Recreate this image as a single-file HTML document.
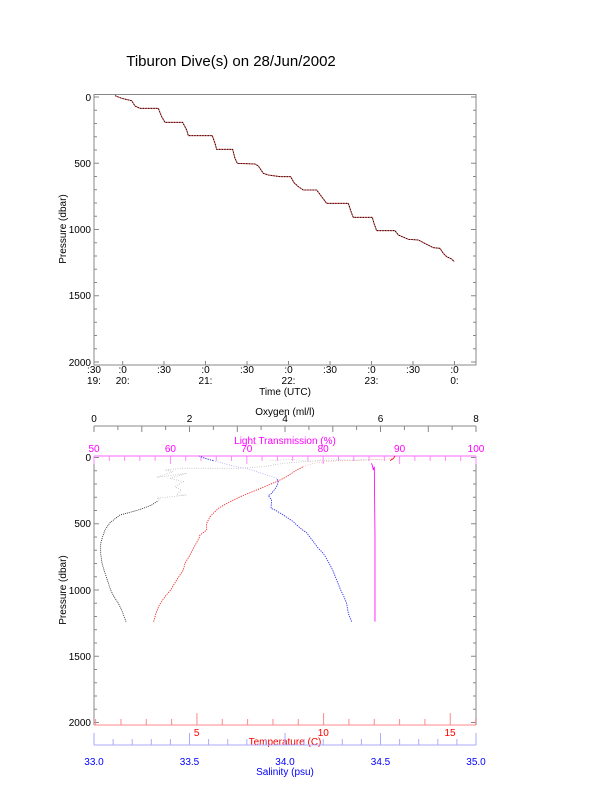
<!DOCTYPE html>
<html><head><style>
body{margin:0;background:#fff}
svg{display:block}
text{font-family:"Liberation Sans",sans-serif;font-size:10px}
</style></head><body>
<svg width="612" height="785" viewBox="0 0 612 785" xmlns="http://www.w3.org/2000/svg">
<rect width="612" height="785" fill="#fff"/>
<text x="231" y="66" text-anchor="middle" style="font-size:15px">Tiburon Dive(s) on 28/Jun/2002</text>

<!-- TOP CHART -->
<rect x="94" y="94.5" width="382" height="270.5" fill="none" stroke="#888" stroke-width="1"/>
<g stroke="#888" stroke-width="1">
<path d="M94 97h5M94 110.2h3M94 123.5h3M94 136.7h3M94 150h3M94 163.2h5M94 176.5h3M94 189.7h3M94 203h3M94 216.2h3M94 229.5h5M94 242.7h3M94 256h3M94 269.2h3M94 282.5h3M94 295.7h5M94 309h3M94 322.2h3M94 335.5h3M94 348.7h3M94 362h5"/>
<path d="M476 97h-5M476 110.2h-3M476 123.5h-3M476 136.7h-3M476 150h-3M476 163.2h-5M476 176.5h-3M476 189.7h-3M476 203h-3M476 216.2h-3M476 229.5h-5M476 242.7h-3M476 256h-3M476 269.2h-3M476 282.5h-3M476 295.7h-5M476 309h-3M476 322.2h-3M476 335.5h-3M476 348.7h-3M476 362h-5"/>
<path d="M122.7 365v-4M164 365v-4M205.5 365v-4M247 365v-4M288.5 365v-4M330 365v-4M371.5 365v-4M413 365v-4M454.5 365v-4"/>
</g>
<g text-anchor="end">
<text x="91" y="101">0</text><text x="91" y="167">500</text><text x="91" y="233">1000</text><text x="91" y="299">1500</text><text x="91" y="366">2000</text>
</g>
<g text-anchor="middle">
<text x="94" y="373">:30</text><text x="122.7" y="373">:0</text><text x="164" y="373">:30</text><text x="205.5" y="373">:0</text><text x="247" y="373">:30</text><text x="288.5" y="373">:0</text><text x="330" y="373">:30</text><text x="371.5" y="373">:0</text><text x="413" y="373">:30</text><text x="454.5" y="373">:0</text>
<text x="94" y="384">19:</text><text x="122.7" y="384">20:</text><text x="205.5" y="384">21:</text><text x="288.5" y="384">22:</text><text x="371.5" y="384">23:</text><text x="454.5" y="384">0:</text>
<text x="285" y="395">Time (UTC)</text>
</g>
<text transform="translate(66 229) rotate(-90)" text-anchor="middle">Pressure (dbar)</text>
<g transform="translate(50 80) scale(0.3333)">
<polyline fill="none" stroke="#e05050" stroke-width="3" points="195,47 215,55 245,62 255,78 270,85 325,85 335,110 345,127 398,127 410,150 415,167 487,167 495,190 500,208 548,208 555,235 562,250 615,252 625,258 640,280 655,285 690,290 722,290 732,308 745,320 760,330 800,330 815,350 830,370 895,370 905,400 910,412 967,412 972,430 980,452 1035,452 1045,465 1075,478 1105,480 1130,493 1150,503 1170,505 1180,520 1190,530 1205,537 1213,545"/>
<polyline fill="none" stroke="#000" stroke-width="2.5" stroke-dasharray="4 4" points="195,47 215,55 245,62 255,78 270,85 325,85 335,110 345,127 398,127 410,150 415,167 487,167 495,190 500,208 548,208 555,235 562,250 615,252 625,258 640,280 655,285 690,290 722,290 732,308 745,320 760,330 800,330 815,350 830,370 895,370 905,400 910,412 967,412 972,430 980,452 1035,452 1045,465 1075,478 1105,480 1130,493 1150,503 1170,505 1180,520 1190,530 1205,537 1213,545"/>
</g>

<!-- BOTTOM CHART -->
<line x1="94" y1="426" x2="476" y2="426" stroke="#888"/>
<g stroke="#888"><path d="M94 426v6M117.9 426v4M141.8 426v6M165.6 426v4M189.5 426v6M213.4 426v4M237.3 426v6M261.1 426v4M285 426v6M308.9 426v4M332.8 426v6M356.6 426v4M380.5 426v6M404.4 426v4M428.3 426v6M452.1 426v4M476 426v6"/></g>
<g text-anchor="middle"><text x="94" y="422">0</text><text x="189.5" y="422">2</text><text x="285" y="422">4</text><text x="380.5" y="422">6</text><text x="476" y="422">8</text><text x="285" y="415">Oxygen (ml/l)</text></g>
<line x1="94" y1="456" x2="94" y2="725" stroke="#888"/>
<line x1="476" y1="456" x2="476" y2="725" stroke="#888"/>
<line x1="94" y1="456" x2="476" y2="456" stroke="#f6f"/>
<g text-anchor="middle" fill="#f0f"><text x="94" y="452">50</text><text x="170.4" y="452">60</text><text x="246.8" y="452">70</text><text x="323.2" y="452">80</text><text x="399.6" y="452">90</text><text x="476" y="452">100</text><text x="285" y="444">Light Transmission (%)</text></g>
<g stroke="#888">
<path d="M94 457.5h5M94 470.7h3M94 484h3M94 497.2h3M94 510.5h3M94 523.7h5M94 537h3M94 550.2h3M94 563.5h3M94 576.7h3M94 590h5M94 603.2h3M94 616.5h3M94 629.7h3M94 643h3M94 656.2h5M94 669.5h3M94 682.7h3M94 696h3M94 709.2h3M94 722.5h5"/>
<path d="M476 457.5h-5M476 470.7h-3M476 484h-3M476 497.2h-3M476 510.5h-3M476 523.7h-5M476 537h-3M476 550.2h-3M476 563.5h-3M476 576.7h-3M476 590h-5M476 603.2h-3M476 616.5h-3M476 629.7h-3M476 643h-3M476 656.2h-5M476 669.5h-3M476 682.7h-3M476 696h-3M476 709.2h-3M476 722.5h-5"/>
</g>
<g text-anchor="end"><text x="91" y="461">0</text><text x="91" y="527">500</text><text x="91" y="594">1000</text><text x="91" y="660">1500</text><text x="91" y="726">2000</text></g>
<text transform="translate(66 590) rotate(-90)" text-anchor="middle">Pressure (dbar)</text>
<line x1="94" y1="725" x2="476" y2="725" stroke="#f88"/>
<g text-anchor="middle" fill="#f00"><text x="196.7" y="736">5</text><text x="323.3" y="736">10</text><text x="450" y="736">15</text><text x="285" y="745">Temperature (C)</text></g>
<line x1="94" y1="745" x2="476" y2="745" stroke="#aaf"/>
<g text-anchor="middle" fill="#00f"><text x="94" y="765">33.0</text><text x="189.5" y="765">33.5</text><text x="285" y="765">34.0</text><text x="380.5" y="765">34.5</text><text x="476" y="765">35.0</text><text x="285" y="775">Salinity (psu)</text></g>
<g id="ticks"></g>

<g transform="translate(50 400) scale(0.3333)" fill="none" stroke-width="2.5">
<!-- light transmission -->
<polyline stroke="#f0f" points="975,665 975,600 975,500 975,400 974,300 973,200 970,210 967,195 964,190"/>
<polyline stroke="#f00" points="1035,168 1030,176 1020,182"/>
<!-- oxygen surface scatter -->
<polyline stroke="#aaa" stroke-dasharray="2 5" points="330,297 320,295 410,285 380,285 395,270 375,260 400,245 360,235 410,220 320,232 370,215 345,210 395,205 480,205 560,205 640,200 700,190 760,185 820,182 880,180 950,180"/>
<polyline stroke="#bbb" stroke-dasharray="2 6" points="660,182 720,178 780,184 840,176 900,182 960,178 1000,180"/>
<!-- oxygen -->
<polyline stroke="#222" stroke-dasharray="3 3" points="228,665 215,630 205,610 192,590 182,570 172,540 162,510 156,490 152,460 152,430 158,410 165,390 180,368 210,345 240,337 265,330 285,323 305,315 325,302"/>
<!-- temperature -->
<polyline stroke="#e22" stroke-dasharray="4 3" points="311,665 318,640 328,615 345,590 362,570 380,540 400,510 405,490 420,465 433,440 447,415 450,405 460,398 470,390 470,370 480,350 505,325 540,305 578,287 620,270 680,245 710,230 740,210 760,200"/>
<polyline stroke="#f99" stroke-dasharray="2 5" points="760,200 790,190 830,185 880,182 950,180 1000,178 1030,175"/>
<!-- salinity -->
<polyline stroke="#22e" stroke-dasharray="4 3" points="905,665 895,640 890,610 882,590 872,570 858,535 848,510 835,485 820,460 805,445 790,425 775,405 770,398 758,390 740,375 730,365 700,345 675,330 663,325 665,300 655,287 665,280 680,260 685,245 680,235"/>
<polyline stroke="#88f" stroke-dasharray="2 5" points="680,235 650,225 590,205 570,203 520,190 490,182"/>
<polyline stroke="#22e" stroke-dasharray="4 3" points="490,182 465,175 448,168"/>
</g>
</svg>
<script>
(function(){
var ns="http://www.w3.org/2000/svg",g=document.getElementById('ticks');
function ln(x1,y1,x2,y2,c){var l=document.createElementNS(ns,'line');l.setAttribute('x1',x1);l.setAttribute('y1',y1);l.setAttribute('x2',x2);l.setAttribute('y2',y2);l.setAttribute('stroke',c);g.appendChild(l);}
for(var L=50;L<=100;L+=2){var x=94+(L-50)*7.64;ln(x,456,x,L%10==0?464:461,'#f8f');}
for(var T=1;T<=16;T++){var x=70.3+T*25.33;if(x<=476.5)ln(x,725,x,T%5==0?713:719,'#f88');}
for(var i=0;i<=20;i++){var x=94+i*19.1;ln(x,745,x,i%5==0?733:739,'#aaf');}
})();
</script>
</body></html>
